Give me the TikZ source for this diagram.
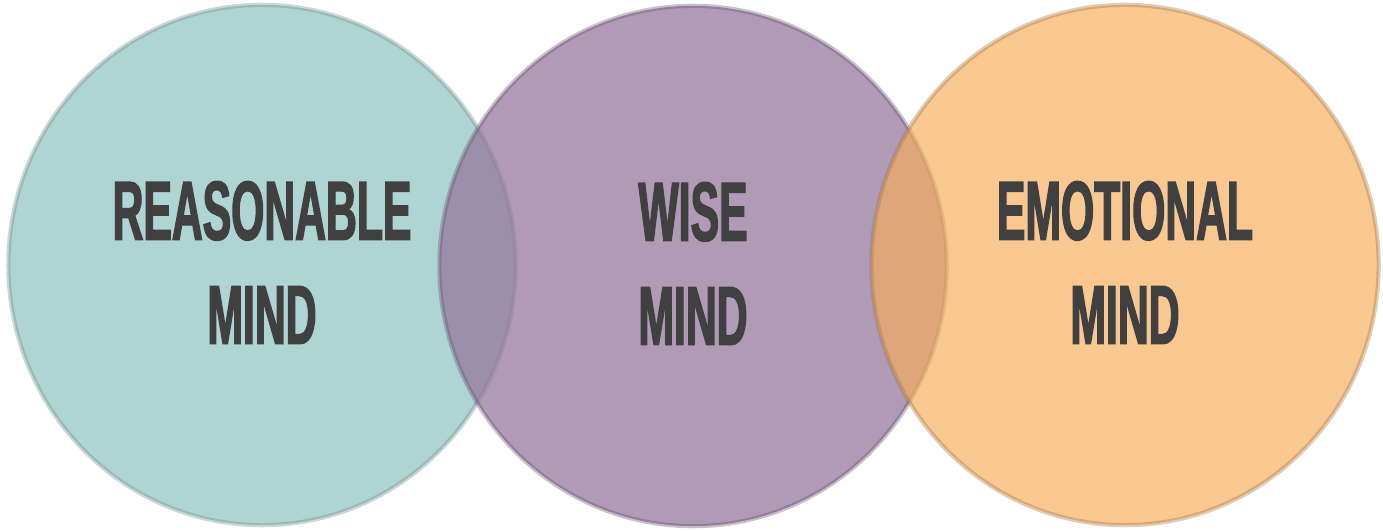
\documentclass[tikz,border=0pt]{standalone}
\usepackage{fontspec}
\usetikzlibrary{shapes.geometric}
\newfontfamily\mindfont[FakeStretch=0.51,FakeBold=1.6]{Liberation Sans}
\definecolor{reasoncol}{RGB}{174,212,211}
\definecolor{wisecol}{RGB}{150,120,158}
\definecolor{emotecol}{RGB}{246,174,93}
\definecolor{textcol}{RGB}{64,64,64}
\begin{document}
\begin{tikzpicture}[x=0.01cm,y=-0.01cm,
    mind/.style={ellipse,minimum width=5.07cm,minimum height=5.2cm,inner sep=0pt,
      align=center,text=textcol,text opacity=1,line width=1.2pt,
      font=\mindfont\bfseries\fontsize{23.8}{29.6}\selectfont}]
  \useasboundingbox (0,0) rectangle (1383,531);
  \node[mind,fill=reasoncol,draw=reasoncol!65!black,draw opacity=0.35] (A) at (262,265) {REASONABLE\\MIND\rule[-0.05cm]{0pt}{0pt}};
  \node[mind,fill=wisecol,fill opacity=0.75,draw=wisecol!65!black,draw opacity=0.35] (B) at (693,266) {WISE\\MIND\rule[-0.05cm]{0pt}{0pt}};
  \node[mind,fill=emotecol,fill opacity=0.68,draw=emotecol!65!black,draw opacity=0.35] (C) at (1125,265) {EMOTIONAL\\MIND\rule[-0.05cm]{0pt}{0pt}};
\end{tikzpicture}
\end{document}
